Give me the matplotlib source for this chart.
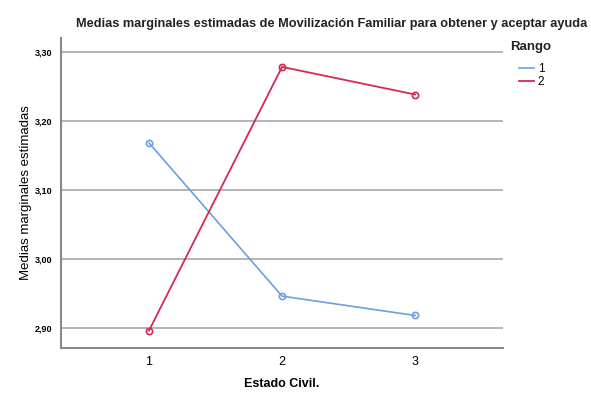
import matplotlib
matplotlib.use("Agg")
import matplotlib.pyplot as plt
from matplotlib.lines import Line2D

categories = [1, 2, 3]
tick_labels = ["1", "2", "3"]
rango1 = [3.168, 2.946, 2.918]
rango2 = [2.896, 3.278, 3.238]
yticks = [2.90, 3.00, 3.10, 3.20, 3.30]
ytick_labels = ["2,90", "3,00", "3,10", "3,20", "3,30"]

plt.rcParams['font.family'] = ['Liberation Sans', 'DejaVu Sans']

fig = plt.figure(figsize=(5.91, 3.99), dpi=100)
ax = fig.add_axes([0.103, 0.128, 0.748, 0.777])

c1 = "#6a9fe0"
c2 = "#d9284f"
for yv in yticks:
    ax.axhline(yv, color="#a8a8a8", lw=1.2, zorder=1)

ax.plot(categories, rango1, color=c1, lw=1.2, marker="o", ms=4.5,
        markerfacecolor="none", markeredgewidth=1.2, zorder=3)
ax.plot(categories, rango2, color=c2, lw=1.3, marker="o", ms=4.5,
        markerfacecolor="none", markeredgewidth=1.2, zorder=3)

ax.set_xlim(0.338, 3.66)
ax.set_ylim(2.871, 3.32)
ax.set_xticks(categories)
ax.set_xticklabels(tick_labels, fontsize=9)
ax.set_yticks(yticks)
ax.set_yticklabels(ytick_labels, fontsize=6.5, fontweight="bold")
ax.tick_params(axis="both", length=0, pad=6)
ax.tick_params(axis="x", pad=6)
for s in ["top", "right"]:
    ax.spines[s].set_visible(False)
for s in ["left", "bottom"]:
    ax.spines[s].set_color("#888888")
    ax.spines[s].set_linewidth(1.5)

ax.set_xlabel("Estado Civil.", fontsize=9, fontweight="bold", labelpad=7)
ax.set_ylabel("Medias marginales estimadas", fontsize=9.5, labelpad=2)
fig.text(0.561, 0.94, "Medias marginales estimadas de Movilización Familiar para obtener y aceptar ayuda",
         ha="center", va="center", fontsize=9.2, fontweight="bold", color="#222222")

fig.text(510 / 591, 1 - 47 / 399, "Rango", ha="left", va="center",
         fontsize=9.5, fontweight="bold", color="#222222")
handles = [Line2D([0], [0], color=c1, lw=1.2), Line2D([0], [0], color=c2, lw=1.3)]
leg = fig.legend(handles, ["1", "2"], loc="upper left", bbox_to_anchor=(0.878, 0.843),
                 frameon=False, fontsize=8.5, handlelength=1.3, handletextpad=0.3,
                 labelspacing=0.15, borderaxespad=0, borderpad=0)

fig.savefig("out.png", dpi=100)
